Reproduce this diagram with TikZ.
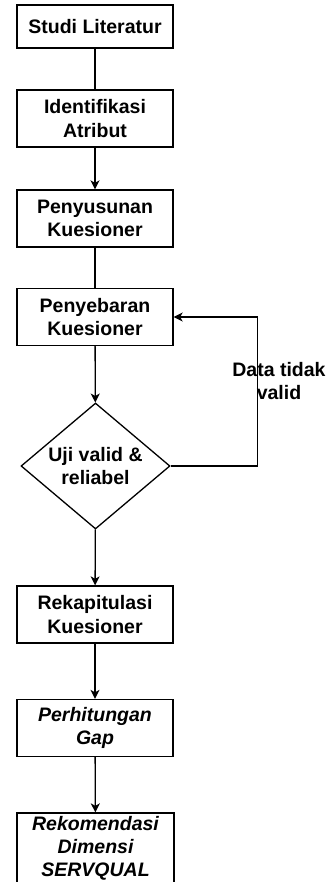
\documentclass[tikz,border=0pt]{standalone}
\usepackage{fontspec}
\setmainfont{Liberation Sans}
\usetikzlibrary{arrows.meta,shapes.geometric}
\begin{document}
\begin{tikzpicture}[x=1pt,y=-1pt,
  every node/.style={font=\fontsize{19.5}{23.3}\selectfont\bfseries, inner sep=0pt, align=center},
  stepbox/.style={draw, line width=1.3pt, minimum width=156pt, minimum height=57pt},
  decision/.style={draw, line width=1.3pt, diamond, minimum width=149pt, minimum height=126pt},
  conn/.style={line width=1.3pt},
  arr/.style={conn, -{Stealth[length=9pt,width=9pt,inset=2.5pt]}}]
\useasboundingbox (0,0) rectangle (328,882);
\node[stepbox, minimum height=43pt] (b1) at (95,26.5) {Studi Literatur};
\node[stepbox] (b2) at (95,118.5) {Identifikasi\\Atribut};
\node[stepbox] (b3) at (95,218.5) {Penyusunan\\Kuesioner};
\node[stepbox] (b4) at (95,317) {Penyebaran\\Kuesioner};
\node[decision, label={center:{Uji valid \&\\reliabel}}] (d) at (95.5,466) {};
\node[stepbox] (b5) at (95,614.5) {Rekapitulasi\\Kuesioner};
\node[stepbox] (b6) at (95,728) {\itshape Perhitungan\\\itshape Gap};
\node[stepbox, minimum width=157pt, minimum height=71pt] (b7) at (95.5,848.5) {\itshape Rekomendasi\\\itshape Dimensi\\\itshape SERVQUAL};
\coordinate (turn) at (257.5,317);
\node (lbl) at (279,381) {Data tidak\\valid};
\draw[conn] (b1) -- (b2);
\draw[arr] (b2) -- (b3);
\draw[conn] (b3) -- (b4);
\draw[arr] (b4) -- (d);
\draw[arr] (d.east) -| (turn) -- (b4.east);
\draw[arr] (d) -- (b5);
\draw[arr] (b5) -- (b6);
\draw[arr] (b6) -- (b7);
\end{tikzpicture}
\end{document}
